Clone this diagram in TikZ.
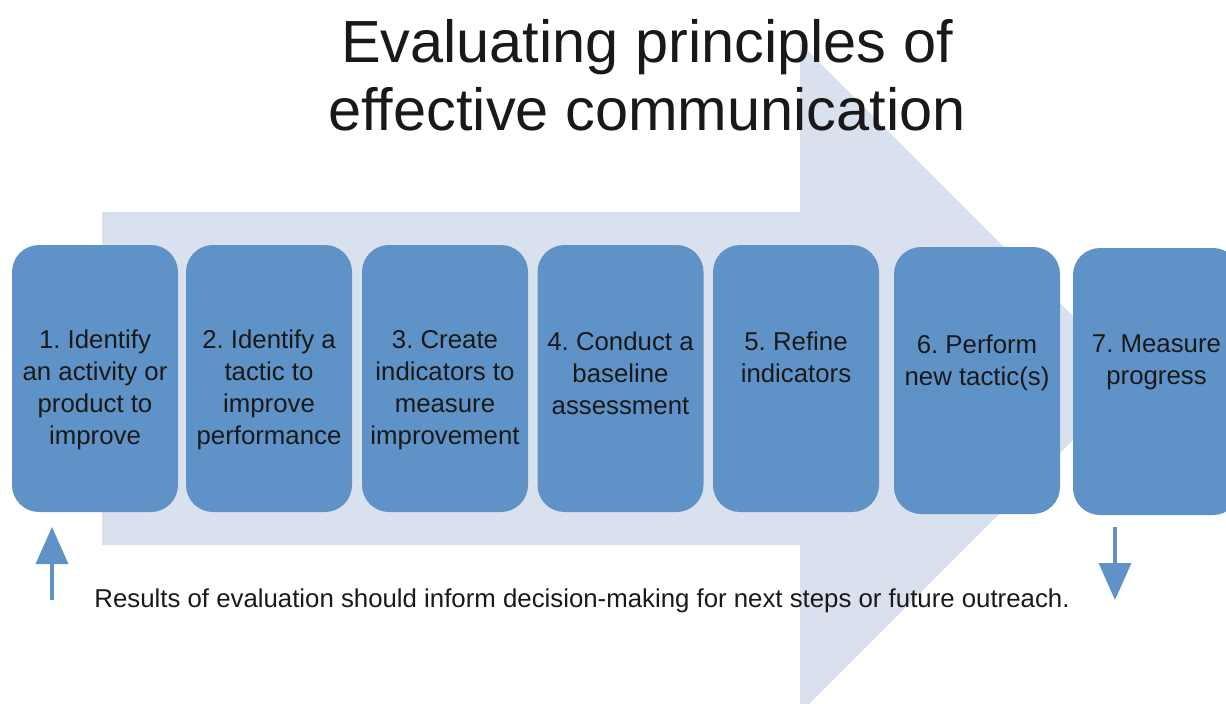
\documentclass[tikz,border=0pt]{standalone}
\usepackage{fontspec}
\setmainfont{Liberation Sans}
\frenchspacing
\usetikzlibrary{arrows.meta,positioning}
\definecolor{stepblue}{RGB}{95,147,200}
\definecolor{arrowgray}{RGB}{217,224,238}
\definecolor{ink}{RGB}{25,25,25}

\begin{document}
\begin{tikzpicture}[x=1pt,y=-1pt,
    stepbox/.style={fill=stepblue,rounded corners=27pt,minimum width=166pt,
                    minimum height=267pt,inner sep=0pt},
    steptext/.style={align=center,inner sep=0pt,text=ink,
                     font=\fontsize{25.8}{32}\selectfont},
    loop/.style={-{Triangle[width=32pt,length=37pt]},line width=3.5pt,stepblue}]
    \useasboundingbox (0,0) rectangle (1226,704);
    \clip (0,0) rectangle (1226,704);

    % big arrow behind everything
    \fill[arrowgray] (102,212) -- (800,212) -- (800,43) -- (1135,378)
        -- (800,713) -- (800,545) -- (102,545) -- cycle;

    % title
    \node[anchor=north,align=center,inner sep=0pt,text=ink,
          font=\fontsize{59.5}{68}\selectfont] (title) at (647,19)
        {Evaluating principles of\\effective communication};

    % the seven steps
    \node[stepbox] (s1) at (95,378.5) {};
    \node[stepbox] (s2) at (269,378.5) {};
    \node[stepbox] (s3) at (445,378.5) {};
    \node[stepbox] (s4) at (620.5,378.5) {};
    \node[stepbox] (s5) at (796,378.5) {};
    \node[stepbox] (s6) at (977,380.5) {};
    \node[stepbox,minimum width=167pt] (s7) at (1156.5,381.5) {};

    \node[steptext,below=85pt of s1.north] (t1) {1. Identify\\an activity or\\product to\\improve};
    \node[steptext,below=85pt of s2.north] (t2) {2. Identify a\\tactic to\\improve\\performance};
    \node[steptext,below=85pt of s3.north] (t3) {3. Create\\indicators to\\measure\\improvement};
    \node[steptext,below=87pt of s4.north] (t4) {4. Conduct a\\baseline\\assessment};
    \node[steptext,below=87pt of s5.north] (t5) {5. Refine\\indicators};
    \node[steptext,below=88pt of s6.north] (t6) {6. Perform\\new tactic(s)};
    \node[steptext,below=87pt of s7.north] (t7) {7. Measure\\progress};

    % feedback note and arrows
    \node[anchor=base,inner sep=0pt,text=ink,font=\fontsize{25.8}{30}\selectfont]
        (note) at (582,607)
        {Results of evaluation should inform decision-making for next steps or future outreach.};

    \coordinate (up0) at (52,600);
    \coordinate (up1) at (52,527);
    \coordinate (dn0) at (1115,527);
    \coordinate (dn1) at (1115,600);
    \draw[loop] (up0) -- (up1);
    \draw[loop] (dn0) -- (dn1);
\end{tikzpicture}
\end{document}
